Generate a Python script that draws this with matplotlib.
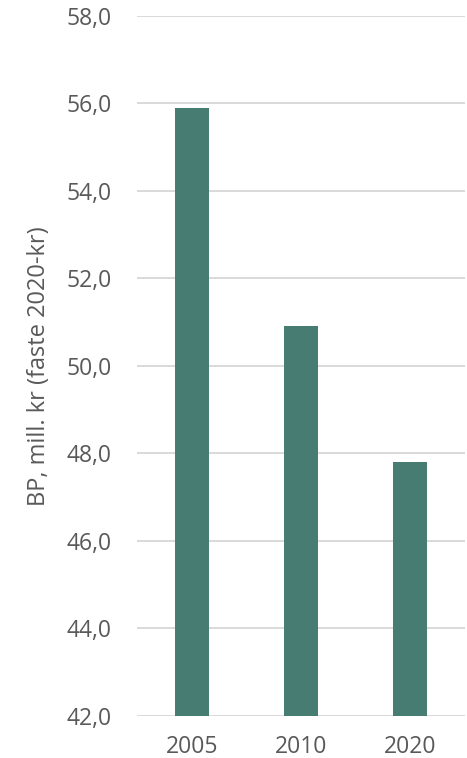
import matplotlib
matplotlib.use("Agg")
import matplotlib.pyplot as plt
import numpy as np

years = ['2005', '2010', '2020']
values = [55.9, 50.9, 47.8]
yticks = [42, 44, 46, 48, 50, 52, 54, 56, 58]

plt.rcParams['font.family'] = ['Open Sans', 'DejaVu Sans']

fig = plt.figure(figsize=(4.67, 7.58), dpi=100)
ax = fig.add_axes([0.2934, 0.0558, 0.7023, 0.9235])

x = np.arange(len(years))
ax.bar(x, values, 0.31, color='#477C72', zorder=3)

ax.set_xlim(-0.5, 2.5)
ax.set_ylim(42, 58)
ax.set_yticks(yticks)
ax.set_yticklabels([f'{v:.1f}'.replace('.', ',') for v in yticks])
ax.set_xticks(x)
ax.set_xticklabels(years)

ax.grid(axis='y', color='#D9D9D9', linewidth=1.4, zorder=0)
for s in ax.spines.values():
    s.set_visible(False)
ax.tick_params(length=0, labelsize=16.5, labelcolor='#595959')
ax.tick_params(axis='y', pad=18.5)
ax.tick_params(axis='x', pad=14)

ax.set_ylabel('BP, mill. kr (faste 2020-kr)', fontsize=17, color='#595959', labelpad=11)

fig.savefig('out.png', dpi=100)
